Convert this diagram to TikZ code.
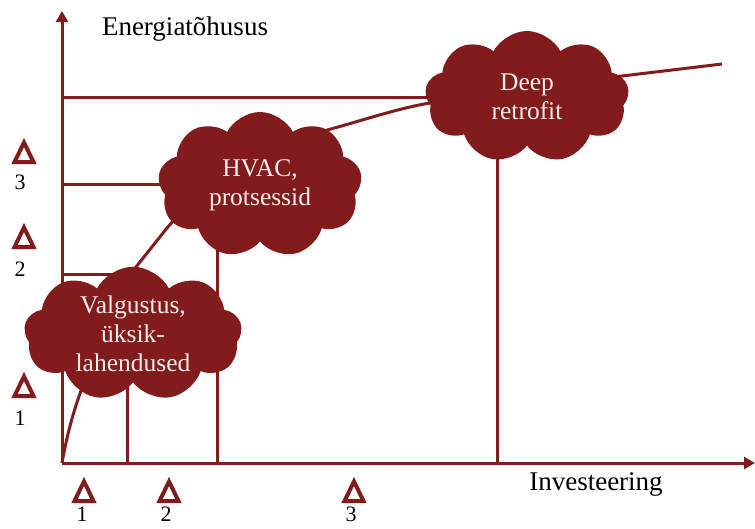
\documentclass[tikz,border=0pt]{standalone}
\usepackage{fontspec}
\setmainfont{Liberation Serif}
\usetikzlibrary{shapes.symbols,arrows.meta}
\definecolor{wine}{HTML}{821B1B}
\definecolor{pale}{HTML}{F6EAEA}
\begin{document}
\begin{tikzpicture}[x=1pt,y=-1pt,
  axis/.style={wine,line width=3pt,-{Triangle[length=11pt,width=12pt]}},
  guide/.style={wine,line width=3pt},
  puff/.style={cloud,cloud puffs=9,cloud puff arc=125,cloud ignores aspect,
    fill=wine,draw=none,text=pale,align=center,inner sep=0pt,
    font=\fontsize{25.5}{29}\selectfont},
  axislabel/.style={font=\fontsize{27}{30}\selectfont,inner sep=0pt},
  num/.style={font=\fontsize{22}{24}\selectfont,inner sep=0pt},
  pics/delta/.style={code={\draw[wine,line width=4pt,line join=miter]
    (-9.5,10) -- (0,-9.5) -- (9.5,10) -- cycle;}}]
\useasboundingbox (0,0) rectangle (755,528);

% axes
\coordinate (O) at (62,463);
\coordinate (ytip) at (62,11);
\coordinate (xtip) at (755,463);
\draw[axis] (O) -- (ytip);
\draw[axis] (O) -- (xtip);

% cost-benefit curve (runs behind the clouds)
\draw[wine,line width=3pt] (O)
  .. controls (66,440) and (72,415) .. (82,388)
  .. controls (95,350) and (115,300) .. (132,272)
  -- (167,228)
  .. controls (220,165) and (290,140) .. (338,127)
  .. controls (370,118) and (400,108) .. (430,103)
  .. controls (500,90) and (560,82) .. (622,76)
  -- (722,64);

% guide lines from the axes to the clouds
\coordinate (h1) at (62,274);
\coordinate (h2) at (62,184);
\coordinate (h3) at (62,97);
\coordinate (v1) at (127,463);
\coordinate (v2) at (217,463);
\coordinate (v3) at (497,463);
\draw[guide] (h1) -- (135,274);
\draw[guide] (h2) -- (200,184);
\draw[guide] (h3) -- (500,97);
\draw[guide] (v1) -- (127,340);
\draw[guide] (v2) -- (217,200);
\draw[guide] (v3) -- (497,110);

% clouds
\node[puff,minimum width=218pt,minimum height=134pt] (light) at (133,334)
  {Valgustus,\\üksik-\\lahendused};
\node[puff,minimum width=204pt,minimum height=146pt] (hvac) at (260,185)
  {HVAC,\\protsessid};
\node[puff,minimum width=204pt,minimum height=132pt] (deep) at (527,97)
  {Deep\\retrofit};

% axis labels
\node[axislabel,anchor=base] (ylab) at (185,35) {Energiatõhusus};
\node[axislabel,anchor=base] (xlab) at (596,490) {Investeering};

% step markers on the vertical axis
\pic at (24,152) {delta};
\node[num] (l3) at (20,182) {3};
\pic at (24,237) {delta};
\node[num] (l2) at (20,269) {2};
\pic at (24,386) {delta};
\node[num] (l1) at (20,418) {1};

% step markers on the horizontal axis
\pic at (84,491) {delta};
\node[num] (b1) at (82,514) {1};
\pic at (169,491) {delta};
\node[num] (b2) at (166,514) {2};
\pic at (354,491) {delta};
\node[num] (b3) at (351,514) {3};
\end{tikzpicture}
\end{document}
